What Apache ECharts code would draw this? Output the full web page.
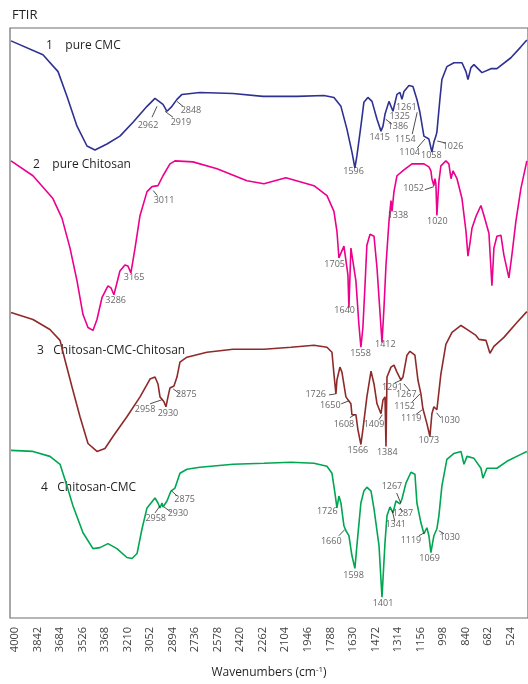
<!DOCTYPE html>
<html>
<head>
<meta charset="utf-8">
<script src="https://cdn.jsdelivr.net/npm/echarts@6/dist/echarts.min.js"></script>
<style>html,body{margin:0;padding:0;background:#fff}#c{width:528px;height:684px}</style>
</head>
<body>
<div id="c"></div>
<script>
// x: wavenumber (cm-1), y: transmittance in arbitrary offset units (0..595)
const tickLabels = [4000,3842,3684,3526,3368,3210,3052,2894,2736,2578,2420,2262,2104,1946,1788,1630,1472,1314,1156,998,840,682,524];

const seriesNames = ['pure CMC','pure Chitosan','Chitosan-CMC-Chitosan','Chitosan-CMC'];

const cmc = [[4028,582],[3804,568],[3698,551],[3635,526],[3565,496],[3495,476],[3439,472],[3355,478],[3264,486],[3172,500],[3074,516],[3018,524],[2990,521],[2962,518],[2934,511],[2899,516],[2864,523],[2829,528],[2703,530],[2471,529],[2261,526],[2022,526],[1833,527],[1763,525],[1714,516],[1672,493],[1637,470],[1616,454],[1602,466],[1574,496],[1553,520],[1525,525],[1496,521],[1461,503],[1433,491],[1419,496],[1405,508],[1377,521],[1363,520],[1349,511],[1321,528],[1300,530],[1286,523],[1272,531],[1237,537],[1209,536],[1181,523],[1160,510],[1132,486],[1118,485],[1097,483],[1076,470],[1062,480],[1048,486],[1041,490],[1020,523],[1006,543],[971,556],[921,560],[865,560],[837,551],[823,543],[802,555],[781,558],[725,550],[662,554],[620,554],[522,565],[452,576],[410,583]];

const chitosan = [[4028,461],[3874,446],[3734,423],[3670,403],[3614,373],[3565,340],[3523,306],[3488,293],[3453,290],[3425,301],[3390,323],[3348,335],[3327,333],[3306,326],[3264,350],[3229,356],[3208,355],[3187,348],[3158,373],[3123,406],[3074,430],[3039,435],[2997,436],[2962,446],[2913,458],[2878,461],[2752,460],[2583,453],[2373,441],[2254,438],[2100,444],[1903,436],[1812,426],[1763,410],[1742,390],[1728,363],[1714,368],[1693,375],[1679,376],[1665,346],[1658,313],[1651,343],[1644,373],[1630,373],[1609,340],[1588,296],[1574,273],[1560,293],[1546,333],[1532,376],[1510,387],[1496,388],[1482,385],[1461,353],[1447,323],[1426,278],[1412,313],[1398,356],[1377,400],[1363,421],[1356,410],[1342,430],[1321,446],[1272,452],[1216,458],[1132,458],[1097,455],[1083,451],[1076,443],[1062,436],[1055,443],[1048,438],[1041,406],[1034,423],[1027,440],[1013,456],[978,461],[957,458],[942,443],[928,451],[900,443],[865,423],[837,390],[823,365],[809,378],[795,393],[767,405],[732,416],[711,406],[676,388],[662,353],[655,335],[641,373],[620,385],[592,386],[571,366],[536,343],[515,366],[487,400],[452,433],[410,461]];

const chiCmcChi = [[4028,308],[3874,301],[3755,291],[3684,280],[3649,260],[3600,233],[3544,203],[3488,176],[3425,168],[3369,171],[3313,183],[3215,203],[3123,223],[3053,241],[3018,243],[2997,236],[2983,223],[2969,225],[2955,218],[2941,213],[2927,223],[2913,232],[2885,234],[2864,243],[2843,258],[2794,263],[2654,268],[2471,271],[2254,271],[2064,273],[1903,275],[1812,273],[1777,268],[1763,246],[1749,226],[1742,240],[1721,253],[1707,248],[1679,223],[1644,216],[1637,205],[1609,205],[1595,190],[1574,175],[1560,190],[1532,223],[1503,249],[1482,236],[1461,216],[1433,206],[1419,220],[1405,223],[1398,173],[1391,243],[1363,253],[1342,255],[1321,248],[1293,240],[1279,243],[1251,265],[1230,269],[1195,265],[1174,240],[1153,226],[1139,211],[1111,196],[1090,183],[1076,206],[1062,213],[1041,210],[1013,246],[978,276],[935,288],[872,295],[830,291],[767,285],[746,281],[697,280],[669,267],[641,274],[571,283],[480,298],[410,309]];

const chiCmc = [[4028,169],[3874,168],[3755,163],[3684,155],[3635,133],[3593,113],[3523,86],[3453,70],[3404,71],[3348,75],[3285,70],[3215,61],[3179,60],[3144,65],[3109,90],[3074,111],[3018,121],[2997,116],[2983,111],[2969,116],[2962,112],[2934,118],[2906,128],[2878,131],[2843,146],[2794,150],[2703,152],[2471,155],[2254,156],[2064,157],[1903,156],[1812,153],[1777,146],[1756,126],[1742,111],[1728,123],[1714,116],[1693,93],[1679,88],[1658,83],[1637,63],[1616,50],[1602,73],[1574,116],[1553,128],[1532,132],[1503,128],[1482,110],[1447,73],[1426,21],[1405,76],[1391,103],[1370,112],[1349,106],[1328,118],[1314,120],[1300,115],[1286,120],[1258,136],[1223,147],[1195,145],[1181,116],[1153,96],[1132,85],[1111,91],[1097,83],[1083,66],[1062,83],[1041,90],[1027,103],[1006,133],[971,160],[921,166],[872,168],[851,155],[830,163],[781,161],[732,151],[718,141],[690,151],[620,151],[550,158],[452,165],[410,168]];

// peak annotations: [label, wn, y] and leader segments
const cmcPeaks = [['2962',3060,496],['2919',2829,499],['2848',2759,511],['1596',1618,449],['1415',1435,484],['1386',1307,495],['1325',1295,505],['1261',1249,514],['1154',1256,482],['1104',1225,469],['1058',1073,465],['1026',921,475]];
const cmcLeaders = [[[3039,505],[3004,516]],[[2948,511],[2892,505]],[[2864,521],[2822,516]],[[1400,503],[1356,498]],[[1214,488],[1179,510]],[[1179,474],[1125,483]],[[1038,481],[980,479]]];

const chitosanPeaks = [['3011',2948,420],['3165',3158,342],['3286',3287,319],['1705',1751,356],['1640',1681,309],['1558',1569,266],['1412',1396,275],['1338',1307,405],['1052',1197,432],['1020',1031,399]];
const chitosanLeaders = [[[3030,431],[3002,426]],[[1125,432],[1062,435]]];

const chiCmcChiPeaks = [['2958',3081,209],['2930',2920,205],['2875',2792,224],['1726',1884,224],['1650',1782,213],['1608',1686,194],['1566',1588,168],['1409',1475,194],['1384',1382,166],['1291',1347,232],['1267',1249,224],['1152',1260,212],['1119',1214,200],['1073',1090,178],['1030',944,198]];
const chiCmcChiLeaders = [[[3053,216],[2971,220]],[[2890,231],[2843,226]],[[1798,225],[1751,226]],[[1712,216],[1658,219]],[[1651,202],[1618,205]],[[1447,200],[1424,205]],[[1337,237],[1291,240]],[[1272,236],[1230,229]],[[1214,218],[1160,226]],[[1190,205],[1144,210]],[[1043,207],[1015,202]]];

const chiCmcPeaks = [['2958',3006,99],['2930',2850,104],['2875',2803,119],['1726',1803,106],['1660',1775,76],['1598',1618,42],['1401',1412,14],['1267',1349,132],['1287',1272,104],['1341',1323,93],['1119',1216,77],['1069',1085,59],['1030',944,80]];
const chiCmcLeaders = [[[3018,106],[2983,113]],[[2955,112],[2908,107]],[[2901,128],[2862,123]],[[1728,83],[1688,89]],[[1323,126],[1295,116]],[[1300,111],[1279,107]],[[1354,108],[1337,98]],[[1167,83],[1127,86]],[[1027,88],[991,85]]];

const colors = ['#2e3192','#ec008c','#8e2a2a','#00a651'];
const FONT = '"Open Sans", "Noto Sans", sans-serif';

const chart = echarts.init(document.getElementById('c'), null, {renderer:'canvas'});

function lineSeries(name, data, color){
  return {type:'line', name, data, showSymbol:false, symbol:'none', animation:false,
    lineStyle:{color, width:1.6}, z:3};
}
function peakSeries(peaks){
  return {type:'scatter', data: peaks.map(p=>({name:p[0], value:[p[1],p[2]]})),
    symbol:'circle', symbolSize:2, itemStyle:{color:'rgba(0,0,0,0)'}, silent:true, animation:false, z:5,
    labelLayout:{hideOverlap:false},
    label:{show:true, position:[0,0], align:'center', verticalAlign:'middle', formatter:'{b}', fontSize:9, color:'#414042', fontFamily:FONT}};
}
function leaderSeries(leaders){
  return {type:'lines', coordinateSystem:'cartesian2d', data: leaders.map(l=>({coords:l})),
    lineStyle:{color:'#231f20', width:0.8, opacity:1}, silent:true, animation:false, z:4};
}

const option = {
  animation:false,
  backgroundColor:'#fff',
  grid:{left:10, right:0, top:28, bottom:61, show:true, borderColor:'#6d6e71', borderWidth:1.2, containLabel:false},
  xAxis:{type:'value', inverse:true, min:402, max:4035,
    axisLine:{show:false}, axisTick:{show:false}, splitLine:{show:false},
    axisLabel:{customValues:tickLabels, formatter:(v)=>String(v), rotate:90, fontSize:11, color:'#414042', margin:9, fontFamily:FONT},
    name:'Wavenumbers (cm{sup|-1})', nameLocation:'middle', nameGap:48,
    nameTextStyle:{fontSize:12, color:'#231f20', fontFamily:FONT,
      rich:{sup:{fontSize:8, verticalAlign:'top', padding:[0,0,6,0], color:'#231f20', fontFamily:FONT}}}},
  yAxis:{type:'value', min:0, max:595, show:false},
  graphic:[
    {type:'text', left:12, top:9, style:{text:'FTIR', fontSize:13, fill:'#231f20', fontFamily:FONT}},
    {type:'text', left:46, top:40, style:{text:'1    '+seriesNames[0], fontSize:12, fill:'#231f20', fontFamily:FONT}},
    {type:'text', left:33, top:159, style:{text:'2    '+seriesNames[1], fontSize:12, fill:'#231f20', fontFamily:FONT}},
    {type:'text', left:37, top:345, style:{text:'3   '+seriesNames[2], fontSize:12, fill:'#231f20', fontFamily:FONT}},
    {type:'text', left:41, top:482, style:{text:'4   '+seriesNames[3], fontSize:12, fill:'#231f20', fontFamily:FONT}}
  ],
  series:[
    lineSeries(seriesNames[0], cmc, colors[0]),
    lineSeries(seriesNames[1], chitosan, colors[1]),
    lineSeries(seriesNames[2], chiCmcChi, colors[2]),
    lineSeries(seriesNames[3], chiCmc, colors[3]),
    peakSeries(cmcPeaks), leaderSeries(cmcLeaders),
    peakSeries(chitosanPeaks), leaderSeries(chitosanLeaders),
    peakSeries(chiCmcChiPeaks), leaderSeries(chiCmcChiLeaders),
    peakSeries(chiCmcPeaks), leaderSeries(chiCmcLeaders)
  ]
};
chart.setOption(option);
</script>
</body>
</html>
